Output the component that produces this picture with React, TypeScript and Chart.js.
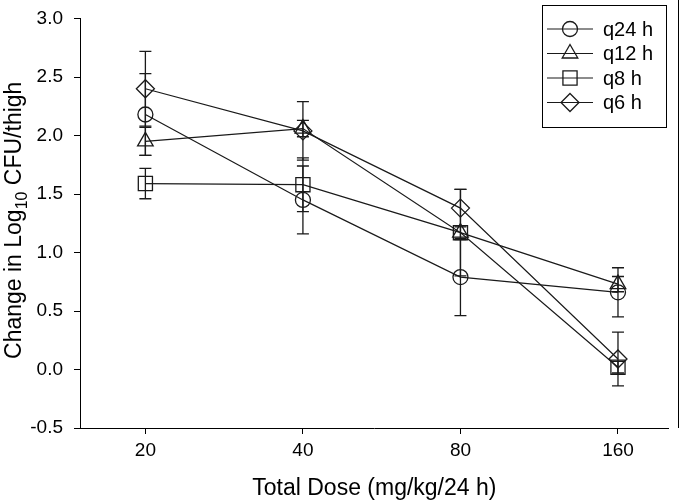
import React, { useEffect, useRef } from 'react';
import { Chart, registerables } from 'chart.js';

Chart.register(...registerables);

// ---- data ----
const doses = [20, 40, 80, 160];
const yTickValues = [-0.5, 0, 0.5, 1.0, 1.5, 2.0, 2.5, 3.0];
const seriesNames = ['q24 h', 'q12 h', 'q8 h', 'q6 h'];

const q24Mean = [2.18, 1.45, 0.79, 0.66];
const q24Err = [0.35, 0.29, 0.33, 0.21];
const q12Mean = [1.95, 2.06, 1.17, 0.73];
const q12Err = [0.12, 0.07, 0.37, 0.065];
const q8Mean = [1.59, 1.58, 1.17, 0.02];
const q8Err = [0.13, 0.23, 0.06, 0.05];
const q6Mean = [2.4, 2.04, 1.38, 0.09];
const q6Err = [0.32, 0.25, 0.16, 0.23];

const means = [q24Mean, q12Mean, q8Mean, q6Mean];
const errs = [q24Err, q12Err, q8Err, q6Err];
const markerStyles = ['circle', 'triangle', 'rect', 'rectRot'];
const markerRadii = [7.5, 9, 10, 9];

const INK = '#1a1a1a';
const FONT = "'Liberation Sans', Arial, sans-serif";

function drawMarker(ctx: CanvasRenderingContext2D, style: string, r: number, x: number, y: number) {
  ctx.beginPath();
  if (style === 'circle') {
    ctx.arc(x, y, r, 0, Math.PI * 2);
  } else if (style === 'triangle') {
    ctx.moveTo(x, y - r);
    ctx.lineTo(x + r * Math.sin(Math.PI / 3), y + r / 2);
    ctx.lineTo(x - r * Math.sin(Math.PI / 3), y + r / 2);
    ctx.closePath();
  } else if (style === 'rect') {
    const s = Math.SQRT1_2 * r;
    ctx.rect(x - s, y - s, 2 * s, 2 * s);
  } else {
    ctx.moveTo(x, y - r);
    ctx.lineTo(x + r, y);
    ctx.lineTo(x, y + r);
    ctx.lineTo(x - r, y);
    ctx.closePath();
  }
  ctx.stroke();
}

const errorBarPlugin = {
  id: 'errorBars',
  afterDatasetsDraw(chart: any) {
    const ctx = chart.ctx as CanvasRenderingContext2D;
    const yScale = chart.scales.y;
    ctx.save();
    ctx.strokeStyle = INK;
    ctx.lineWidth = 1.3;
    chart.data.datasets.forEach((ds: any, di: number) => {
      const meta = chart.getDatasetMeta(di);
      meta.data.forEach((pt: any, i: number) => {
        const m = means[di][i];
        const e = errs[di][i];
        const x = pt.x;
        const yTop = yScale.getPixelForValue(m + e);
        const yBot = yScale.getPixelForValue(m - e);
        ctx.beginPath();
        ctx.moveTo(x, yTop);
        ctx.lineTo(x, yBot);
        ctx.moveTo(x - 6, yTop);
        ctx.lineTo(x + 6, yTop);
        ctx.moveTo(x - 6, yBot);
        ctx.lineTo(x + 6, yBot);
        ctx.stroke();
      });
    });
    ctx.restore();
  },
};

const decorPlugin = {
  id: 'decor',
  afterDraw(chart: any) {
    const ctx = chart.ctx as CanvasRenderingContext2D;
    const area = chart.chartArea;
    ctx.save();
    ctx.strokeStyle = '#000';
    ctx.lineWidth = 1;
    ctx.beginPath();
    ctx.moveTo(678.5, 0);
    ctx.lineTo(678.5, area.bottom);
    ctx.stroke();

    ctx.fillStyle = '#000';
    const big = `23px ${FONT}`;
    const small = `16px ${FONT}`;
    const p1 = 'Change in Log';
    const p2 = '10';
    const p3 = ' CFU/thigh';
    ctx.font = big;
    const w1 = ctx.measureText(p1).width;
    const w3 = ctx.measureText(p3).width;
    ctx.font = small;
    const w2 = ctx.measureText(p2).width;
    const total = w1 + w2 + w3;
    const cy = (area.top + area.bottom) / 2 - 3;
    ctx.translate(21, cy);
    ctx.rotate(-Math.PI / 2);
    ctx.textBaseline = 'alphabetic';
    ctx.textAlign = 'left';
    let x0 = -total / 2;
    ctx.font = big;
    ctx.fillText(p1, x0, 0);
    x0 += w1;
    ctx.font = small;
    ctx.fillText(p2, x0, 6);
    x0 += w2;
    ctx.font = big;
    ctx.fillText(p3, x0, 0);
    ctx.setTransform(1, 0, 0, 1, 0, 0);

    ctx.font = big;
    ctx.textAlign = 'center';
    ctx.fillText('Total Dose (mg/kg/24 h)', (area.left + area.right) / 2, 495);

    ctx.strokeStyle = '#000';
    ctx.lineWidth = 1;
    ctx.strokeRect(542.5, 5.5, 124, 122);
    const rows = [29, 53.5, 78, 102.5];
    ctx.font = `20px ${FONT}`;
    ctx.textAlign = 'left';
    ctx.textBaseline = 'middle';
    seriesNames.forEach((name, i) => {
      const y = rows[i];
      ctx.strokeStyle = INK;
      ctx.lineWidth = 1.2;
      ctx.beginPath();
      ctx.moveTo(547, y);
      ctx.lineTo(593, y);
      ctx.stroke();
      ctx.lineWidth = 1.3;
      drawMarker(ctx, markerStyles[i], markerRadii[i], 570, y);
      ctx.fillStyle = '#000';
      ctx.fillText(name, 603, y + 1);
    });
    ctx.restore();
  },
};

export default function App() {
  const ref = useRef<HTMLCanvasElement | null>(null);
  useEffect(() => {
    document.body.style.margin = '0';
    const canvas = ref.current!;
    const tickFont = { family: FONT, size: 19, lineHeight: 0.8 };
    const chart = new Chart(canvas, {
      type: 'line',
      data: {
        datasets: seriesNames.map((name, i) => ({
          label: name,
          data: doses.map((d, j) => ({ x: d, y: means[i][j] })),
          borderColor: INK,
          borderWidth: 1.2,
          pointStyle: markerStyles[i] as any,
          pointRadius: markerRadii[i],
          pointBorderWidth: 1.3,
          pointBorderColor: INK,
          pointBackgroundColor: 'rgba(0,0,0,0)',
          tension: 0,
          fill: false,
        })),
      },
      options: {
        animation: false,
        responsive: false,
        maintainAspectRatio: false,
        layout: { padding: { left: 0, right: 0, top: 8, bottom: 0 } },
        plugins: { legend: { display: false }, tooltip: { enabled: false } },
        scales: {
          x: {
            type: 'logarithmic',
            position: 'bottom',
            min: 15,
            max: 200,
            afterBuildTicks: (s: any) => {
              s.ticks = doses.map((v) => ({ value: v }));
            },
            afterFit: (s: any) => {
              s.height = 74;
            },
            ticks: {
              callback: (v: any) => String(v),
              font: tickFont,
              color: '#000',
              padding: 9,
              maxRotation: 0,
              autoSkip: false,
            },
            grid: { drawOnChartArea: false, drawTicks: true, tickLength: 6, color: '#000', lineWidth: 1 },
            border: { display: true, color: '#000', width: 1 },
          },
          y: {
            type: 'linear',
            min: -0.5,
            max: 3.0,
            afterBuildTicks: (s: any) => {
              s.ticks = yTickValues.map((v) => ({ value: v }));
            },
            afterFit: (s: any) => {
              s.width = 80;
            },
            ticks: {
              callback: (v: any) => Number(v).toFixed(1),
              font: tickFont,
              color: '#000',
              padding: 11,
            },
            grid: { drawOnChartArea: false, drawTicks: true, tickLength: 6, color: '#000', lineWidth: 1 },
            border: { display: true, color: '#000', width: 1 },
          },
        },
      } as any,
      plugins: [errorBarPlugin, decorPlugin],
    });
    return () => chart.destroy();
  }, []);
  return <canvas ref={ref} width={680} height={502} style={{ display: 'block' }} />;
}
